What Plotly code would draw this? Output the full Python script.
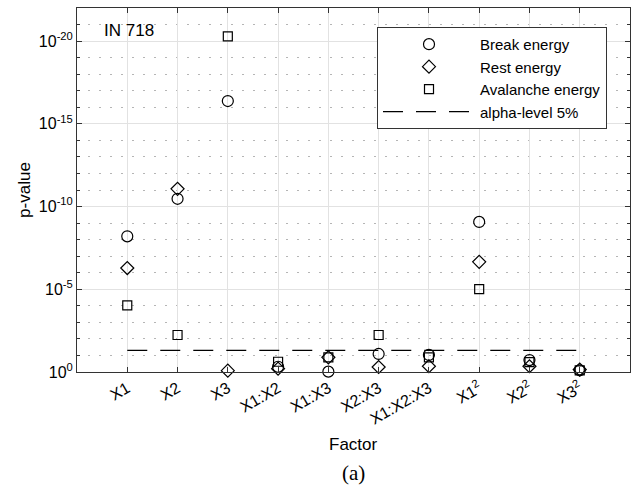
import plotly.graph_objects as go

factors = ["X1", "X2", "X3", "X1:X2", "X1:X3", "X2:X3", "X1:X2:X3",
           "X1<sup>2</sup>", "X2<sup>2</sup>", "X3<sup>2</sup>"]

p_break = [6.3e-9, 3.4e-11, 4.2e-17, 0.48, 0.95, 0.081, 0.093, 8.5e-10, 0.19, 0.79]
p_rest = [5.2e-7, 8.5e-12, 0.83, 0.63, 0.13, 0.50, 0.45, 2.2e-7, 0.45, 0.71]
p_avalanche = [9.5e-5, 5.8e-3, 5.2e-21, 0.24, 0.13, 5.8e-3, 0.13, 9.8e-6, 0.25, 0.79]
alpha_level = 0.05

ytick_vals = [1, 1e-5, 1e-10, 1e-15, 1e-20]
ytick_text = ["10<sup>0</sup>", "10<sup>-5</sup>", "10<sup>-10</sup>",
              "10<sup>-15</sup>", "10<sup>-20</sup>"]
minor_vals = [10.0 ** (-k) for k in range(1, 23) if k % 5 != 0]

FONT = "Liberation Sans, Arial, sans-serif"
AX = "#333333"

fig = go.Figure()
fig.add_trace(go.Scatter(x=factors, y=p_break, mode="markers", name="Break energy",
                         marker=dict(symbol="circle-open", size=11, color="black",
                                     line=dict(width=1.2, color="black")),
                         cliponaxis=False))
fig.add_trace(go.Scatter(x=factors, y=p_rest, mode="markers", name="Rest energy",
                         marker=dict(symbol="diamond-open", size=10, color="black",
                                     line=dict(width=1.2, color="black")),
                         cliponaxis=False))
fig.add_trace(go.Scatter(x=factors, y=p_avalanche, mode="markers", name="Avalanche energy",
                         marker=dict(symbol="square-open", size=9, color="black",
                                     line=dict(width=1.2, color="black")),
                         cliponaxis=False))
fig.add_trace(go.Scatter(x=[factors[0], factors[-1]], y=[alpha_level, alpha_level],
                         mode="lines", name="alpha-level 5%",
                         line=dict(color="black", width=1.2, dash="20px,13px")))

fig.update_layout(
    width=633, height=486,
    margin=dict(l=77, r=3, t=8, b=114),
    paper_bgcolor="white", plot_bgcolor="white",
    font=dict(family=FONT, size=15, color="black"),
    showlegend=True,
    legend=dict(x=0.5425, y=0.948, xanchor="left", yanchor="top",
                bgcolor="white", bordercolor=AX, borderwidth=1,
                font=dict(family=FONT, size=15, color="black"),
                itemwidth=92, tracegroupgap=0),
    xaxis=dict(type="category", categoryorder="array", categoryarray=factors,
               range=[-1, 10], tickangle=-30, ticks="inside", ticklen=5,
               tickcolor=AX, showline=True, linecolor=AX, linewidth=1,
               mirror="ticks", showgrid=True, gridcolor="#e2e2e2", gridwidth=1,
               zeroline=False, automargin=False,
               tickfont=dict(family=FONT, size=16, color="black")),
    yaxis=dict(type="log", range=[0, -22], tickvals=ytick_vals, ticktext=ytick_text,
               ticks="inside", ticklen=5, tickcolor=AX, showline=True, linecolor=AX,
               linewidth=1, mirror="ticks", showgrid=True, gridcolor="#e2e2e2",
               gridwidth=1, zeroline=False, automargin=False,
               tickfont=dict(family=FONT, size=16, color="black"),
               minor=dict(tickvals=minor_vals, ticks="inside", ticklen=3,
                          tickcolor=AX, showgrid=True, gridcolor="#b5b5b5",
                          griddash="2px,9px", gridwidth=1)),
    annotations=[
        dict(text="IN 718", x=0.045, y=0.937, xref="paper", yref="paper",
             xanchor="left", yanchor="middle", showarrow=False,
             font=dict(family=FONT, size=17, color="black")),
        dict(text="p-value", x=-0.096, y=0.5, xref="paper", yref="paper",
             xanchor="center", yanchor="middle", textangle=-90, showarrow=False,
             font=dict(family=FONT, size=17, color="black")),
        dict(text="Factor", x=0.5, y=-0.2005, xref="paper", yref="paper",
             xanchor="center", yanchor="middle", showarrow=False,
             font=dict(family=FONT, size=17, color="black")),
        dict(text="(a)", x=0.5, y=-0.2775, xref="paper", yref="paper",
             xanchor="center", yanchor="middle", showarrow=False,
             font=dict(family="Liberation Serif, DejaVu Serif, serif", size=21,
                       color="black")),
    ],
)

fig.write_html("out.html",
               config={"displayModeBar": False},
               post_script="document.body.style.margin='0px';"
                           "document.body.style.padding='0px';")
